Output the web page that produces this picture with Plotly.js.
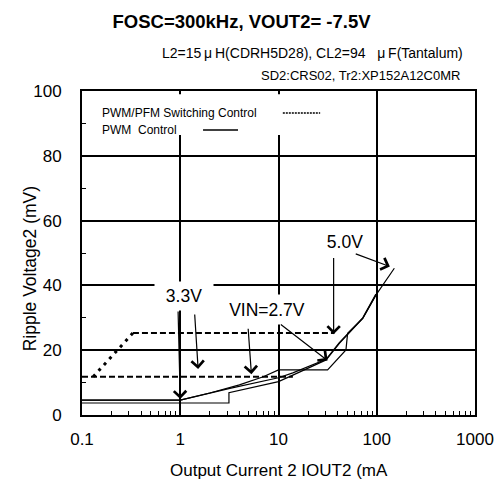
<!DOCTYPE html>
<html>
<head>
<meta charset="utf-8">
<script src="https://cdn.plot.ly/plotly-3.0.1.min.js"></script>
<style>html,body{margin:0;padding:0;background:#fff;}#chart{width:496px;height:481px;}</style>
</head>
<body>
<div id="chart"></div>
<script>
// ---- Data ----
const xTickVals = [0.1, 1, 10, 100, 1000];
const xTickText = ['0.1', '1', '10', '100', '1000'];
const yTickVals = [0, 20, 40, 60, 80, 100];
const yTickText = ['0', '20', '40', '60', '80', '100'];
const yMinorVals = [10, 30, 50, 70, 90];
const decades = [0.1, 1, 10, 100];
const minorMult = [2, 3, 4, 5, 6, 7, 8, 9];

// PWM/PFM switching control (broken lines)
const pfmLowX = [0.1, 14];
const pfmLowY = [11.8, 11.8];
const pfmRiseX = [0.13, 0.33];
const pfmRiseY = [11.8, 25.3];
const pfmHighX = [0.33, 37.1];
const pfmHighY = [25.3, 25.3];

// PWM control (solid lines)
const pwmAX = [0.1, 1, 2, 4, 7, 10, 31.6, 48.6, 50.5, 72, 100];
const pwmAY = [4.6, 4.6, 6.8, 9.3, 11.8, 13.9, 13.9, 20.1, 25.2, 29.8, 37.5];
const pwmBX = [0.1, 1, 3.2, 7, 10, 14, 30.5, 41.6, 72, 98];
const pwmBY = [4.6, 4.6, 8.2, 10.5, 11.5, 13, 17.2, 22.3, 30, 37.3];
const pwmCX = [0.1, 3.13, 3.13, 7, 10, 14, 30.5, 41.6, 72, 98, 151];
const pwmCY = [3.7, 3.7, 6.9, 9.3, 10.3, 12.3, 17, 22.1, 29.8, 37, 45.3];

// Labels
const titleText = 'FOSC=300kHz, VOUT2= -7.5V';
const noteLine1 = 'L2=15\u2009\u03bc\u2009H(CDRH5D28), CL2=94\u00a0\u00a0 \u03bc\u2009F(Tantalum)';
const noteLine2 = 'SD2:CRS02, Tr2:XP152A12C0MR';
const legendPfm = 'PWM/PFM Switching Control';
const legendPwm = 'PWM\u00a0 Control';
const xTitle = 'Output Current 2 IOUT2 (mA';
const yTitle = 'Ripple Voltage2 (mV)';

// label positions (mA, mV) and arrows [tailX, tailY, tipX, tipY]
const lbl33 = {text: '3.3V', x: 1.08, y: 36.7, w: 56, h: 26};
const lbl27 = {text: 'VIN=2.7V', x: 7.55, y: 32.7, w: 80, h: 27};
const lbl50 = {text: '5.0V', x: 48, y: 53.5, w: 46, h: 24};
const arrows = [
  [0.95, 32.4, 1.0, 4.9],
  [1.4, 31.5, 1.52, 14.2],
  [4.9, 27.1, 5.3, 12.6],
  [10.2, 28.3, 31.6, 16.8],
  [36.4, 48.9, 36.4, 24.9],
  [59, 49.9, 136, 45.8]
];

const FONT = 'Liberation Sans, Arial, sans-serif';
const minorX = [];
decades.forEach(d => minorMult.forEach(m => minorX.push(d * m)));

function line(x, y, dash, width) {
  return {x: x, y: y, type: 'scatter', mode: 'lines', showlegend: false,
    line: {color: 'black', width: width, dash: dash}, hoverinfo: 'skip'};
}

const traces = [
  line(pfmLowX, pfmLowY, '6px,3px', 2),
  line(pfmRiseX, pfmRiseY, '3px,5px', 3),
  line(pfmHighX, pfmHighY, '6px,3px', 2),
  line(pwmAX, pwmAY, 'solid', 1.2),
  line(pwmBX, pwmBY, 'solid', 1.2),
  line(pwmCX, pwmCY, 'solid', 1.2)
];

const L = Math.log10;
const annotations = [];
[lbl33, lbl27, lbl50].forEach(a => {
  annotations.push({x: L(a.x), y: a.y, xref: 'x', yref: 'y', text: a.text, showarrow: false,
    font: {family: FONT, size: 17.5, color: 'black'}, bgcolor: 'white', width: a.w, height: a.h});
});
arrows.forEach(a => {
  annotations.push({x: L(a[2]), y: a[3], ax: L(a[0]), ay: a[1], xref: 'x', yref: 'y',
    axref: 'x', ayref: 'y', text: '', showarrow: true, arrowhead: 4, arrowsize: 2,
    arrowwidth: 1.2, arrowcolor: 'black'});
});
annotations.push({xref: 'paper', yref: 'paper', x: 0.975, y: 1.117, xanchor: 'right', yanchor: 'middle',
  text: noteLine1, showarrow: false, font: {family: FONT, size: 14, color: 'black'}});
annotations.push({xref: 'paper', yref: 'paper', x: 0.967, y: 1.049, xanchor: 'right', yanchor: 'middle',
  text: noteLine2, showarrow: false, font: {family: FONT, size: 13, color: 'black'}});
annotations.push({xref: 'paper', yref: 'paper', x: 0.046, y: 0.932, xanchor: 'left', yanchor: 'middle',
  text: legendPfm, showarrow: false, font: {family: FONT, size: 12, color: 'black'}});
annotations.push({xref: 'paper', yref: 'paper', x: 0.046, y: 0.880, xanchor: 'left', yanchor: 'middle',
  text: legendPwm, showarrow: false, font: {family: FONT, size: 12, color: 'black'}});
annotations.push({xref: 'paper', yref: 'paper', x: 0.5, y: -0.17, xanchor: 'center', yanchor: 'middle',
  text: xTitle, showarrow: false, font: {family: FONT, size: 17, color: 'black'}});
annotations.push({xref: 'paper', yref: 'paper', x: -0.132, y: 0.45, xanchor: 'center', yanchor: 'middle',
  textangle: -90, text: yTitle, showarrow: false, font: {family: FONT, size: 17.5, color: 'black'}});

const shapes = [
  {type: 'rect', xref: 'paper', yref: 'paper', x0: 0.033, x1: 0.631, y0: 0.864, y1: 0.99,
    fillcolor: 'white', line: {width: 0}, layer: 'above'},
  {type: 'line', xref: 'paper', yref: 'paper', x0: 0.511, x1: 0.606, y0: 0.932, y1: 0.932,
    line: {color: 'black', width: 1.5, dash: '2px,1px'}, layer: 'above'},
  {type: 'line', xref: 'paper', yref: 'paper', x0: 0.308, x1: 0.397, y0: 0.880, y1: 0.880,
    line: {color: 'black', width: 1.5}, layer: 'above'}
];

const layout = {
  width: 496, height: 481,
  margin: {l: 82, r: 21, t: 91, b: 66},
  paper_bgcolor: 'white', plot_bgcolor: 'white',
  font: {family: FONT, color: 'black'},
  showlegend: false,
  title: {text: '<b>' + titleText + '</b>', font: {family: FONT, size: 18.5, color: 'black'},
    x: 0.487, xref: 'container', y: 0.955, yref: 'container', yanchor: 'middle'},
  xaxis: {type: 'log', range: [-1, 3], tickmode: 'array', tickvals: xTickVals, ticktext: xTickText,
    showgrid: true, gridcolor: 'black', gridwidth: 2, showline: true, mirror: true,
    linecolor: 'black', linewidth: 2, ticks: '', zeroline: false, ticklabelstandoff: 8,
    tickfont: {family: FONT, size: 17, color: 'black'},
    minor: {tickmode: 'array', tickvals: minorX, ticks: 'inside', ticklen: 4, tickwidth: 1, tickcolor: 'black', showgrid: false}},
  yaxis: {range: [0, 100], tickmode: 'array', tickvals: yTickVals, ticktext: yTickText,
    showgrid: true, gridcolor: 'black', gridwidth: 2, showline: true, mirror: true,
    linecolor: 'black', linewidth: 2, ticks: '', zeroline: false, ticklabelstandoff: 15,
    tickfont: {family: FONT, size: 17, color: 'black'},
    minor: {tickmode: 'array', tickvals: yMinorVals, ticks: 'inside', ticklen: 4, tickwidth: 1, tickcolor: 'black', showgrid: false}},
  annotations: annotations,
  shapes: shapes
};

Plotly.newPlot('chart', traces, layout, {staticPlot: true, displayModeBar: false});
</script>
</body>
</html>
